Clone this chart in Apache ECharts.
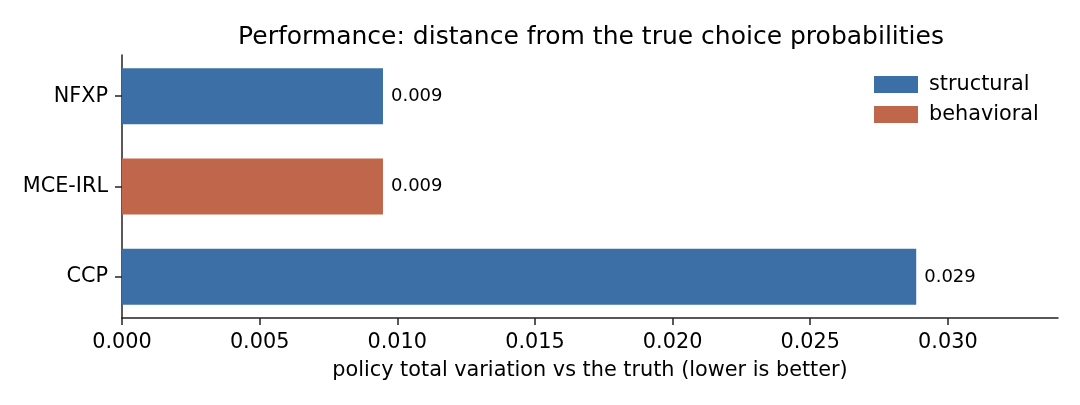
<!DOCTYPE html>
<html style="height: 100%">
<head>
    <meta charset="utf-8">
</head>
<body style="height: 100%; margin: 0">
<div id="container" style="width: 1080px; height: 405px"></div>
<script type="text/javascript" src="https://cdn.jsdelivr.net/npm/echarts@6/dist/echarts.min.js"></script>
<script type="text/javascript">
    // categories listed bottom to top
    var methods = ['CCP', 'MCE-IRL', 'NFXP'];
    var structural = [0.02885, '-', 0.00948];
    var behavioral = ['-', 0.00948, '-'];
    var xTicks = [0, 0.005, 0.010, 0.015, 0.020, 0.025, 0.030];

    var dom = document.getElementById('container');
    var myChart = echarts.init(dom);
    var font = 'DejaVu Sans';
    var axisColor = '#222';

    var barLabel = {
        show: true,
        position: 'right',
        distance: 8,
        color: '#000',
        fontFamily: font,
        fontSize: 18,
        formatter: function (p) { return p.value.toFixed(3); }
    };

    var option = {
        backgroundColor: '#fff',
        animation: false,
        title: {
            text: 'Performance: distance from the true choice probabilities',
            left: 586,
            textAlign: 'center',
            top: 20,
            textStyle: { fontFamily: font, fontSize: 25, fontWeight: 'normal', color: '#000' }
        },
        legend: {
            orient: 'vertical',
            left: 869,
            top: 69,
            icon: 'rect',
            itemWidth: 44,
            itemHeight: 17,
            itemGap: 9,
            textStyle: { fontFamily: font, fontSize: 20.8, color: '#000', padding: [0, 0, 0, 6] },
            data: ['structural', 'behavioral']
        },
        // grid 0 places the bars (band spacing as in matplotlib), grid 1 draws the spines
        grid: [
            { left: 122, right: 22, top: 51, bottom: 83 },
            { left: 122, right: 22, top: 55, bottom: 87 }
        ],
        xAxis: [
            {
                type: 'value', gridIndex: 0, min: 0, max: 0.034,
                axisLine: { show: false }, axisTick: { show: false },
                axisLabel: { show: false }, splitLine: { show: false }
            },
            {
                type: 'value', gridIndex: 1,
                min: 0,
                max: 0.034,
                interval: 0.005,
                name: 'policy total variation vs the truth (lower is better)',
                nameLocation: 'middle',
                nameGap: 42,
                nameTextStyle: { fontFamily: font, fontSize: 20.8, color: '#000' },
                axisLine: { show: true, lineStyle: { color: axisColor, width: 1.5 } },
                axisTick: { show: true, length: 7, customValues: xTicks, lineStyle: { color: axisColor, width: 1.5 } },
                axisLabel: {
                    customValues: xTicks,
                    margin: 14,
                    fontFamily: font, fontSize: 20.8, color: '#000',
                    formatter: function (v) { return v.toFixed(3); }
                },
                splitLine: { show: false }
            }
        ],
        yAxis: [
            {
                type: 'category',
                gridIndex: 0,
                data: methods,
                axisLine: { show: false },
                axisTick: { show: true, alignWithLabel: true, length: 7, lineStyle: { color: axisColor, width: 1.5 } },
                axisLabel: { margin: 14, padding: [4, 0, 0, 0], fontFamily: font, fontSize: 20.8, color: '#000' },
                splitLine: { show: false }
            },
            {
                type: 'value',
                gridIndex: 1,
                min: 0, max: 1,
                axisLine: { show: true, lineStyle: { color: axisColor, width: 1.5 } },
                axisTick: { show: false },
                axisLabel: { show: false },
                splitLine: { show: false }
            }
        ],
        series: [
            {
                name: 'structural',
                type: 'bar',
                xAxisIndex: 0,
                yAxisIndex: 0,
                stack: 'all',
                barWidth: 56,
                data: structural,
                itemStyle: { color: '#3B6FA5' },
                label: barLabel
            },
            {
                name: 'behavioral',
                type: 'bar',
                xAxisIndex: 0,
                yAxisIndex: 0,
                stack: 'all',
                barWidth: 56,
                data: behavioral,
                itemStyle: { color: '#C0664A' },
                label: barLabel
            }
        ]
    };
    myChart.setOption(option, true);
</script>
</body>
</html>
